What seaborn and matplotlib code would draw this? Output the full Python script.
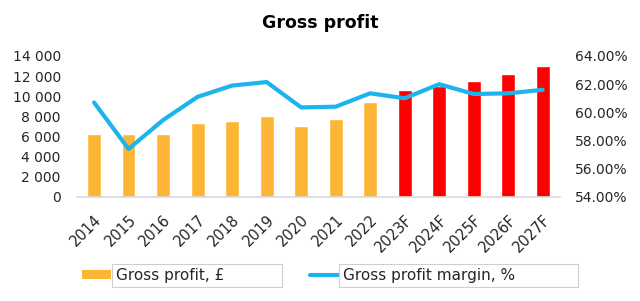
import matplotlib
matplotlib.use("Agg")
import matplotlib.pyplot as plt
import seaborn as sns
import numpy as np
import pandas as pd
from matplotlib.patches import Patch
from matplotlib.lines import Line2D
from matplotlib.ticker import FuncFormatter, MultipleLocator

years = ["2014", "2015", "2016", "2017", "2018", "2019", "2020", "2021", "2022",
         "2023F", "2024F", "2025F", "2026F", "2027F"]
gross_profit = [6200, 6200, 6200, 7350, 7550, 8000, 7000, 7750, 9450,
                10650, 11000, 11550, 12250, 13000]
margin_pct = [60.7, 57.4, 59.45, 61.1, 61.9, 62.15, 60.35, 60.4, 61.35,
              61.0, 62.0, 61.3, 61.35, 61.6]

bar_label = "Gross profit, £"
line_label = "Gross profit margin, %"
title = "Gross profit"

ORANGE = "#FDB536"
RED = "#FF0000"
BLUE = "#1CB4EC"
TXT = "#262626"

sns.set_theme(style="white")
plt.rcParams['font.family'] = ['DejaVu Sans']

df = pd.DataFrame({"year": years, "profit": gross_profit, "margin": margin_pct})
colors = [RED if y.endswith("F") else ORANGE for y in years]

fig = plt.figure(figsize=(6.4, 3.01), dpi=100)
ax = fig.add_axes([0.12, 0.346, 0.755, 0.468])
sns.barplot(data=df, x="year", y="profit", hue="year", palette=colors,
            legend=False, width=0.4, ax=ax, saturation=1)
ax.set_xlim(-0.5, len(years) - 0.5)
ax.set_ylim(0, 14000)
ax.yaxis.set_major_locator(MultipleLocator(2000))
ax.yaxis.set_major_formatter(FuncFormatter(lambda v, p: f"{int(v):,}".replace(",", " ")))
ax.set_xlabel("")
ax.set_ylabel("")
for s in ["top", "left", "right"]:
    ax.spines[s].set_visible(False)
ax.spines["bottom"].set_color("#d9d9d9")
ax.spines["bottom"].set_linewidth(1.2)
ax.tick_params(axis="y", labelsize=10, length=0, pad=11.5, labelcolor=TXT)
ax.tick_params(axis="x", labelsize=10.5, length=0, pad=11, labelcolor=TXT)
for lab in ax.get_xticklabels():
    lab.set_rotation(45)
    lab.set_ha("right")
    lab.set_rotation_mode("anchor")

ax2 = ax.twinx()
sns.lineplot(x=np.arange(len(years)), y=df["margin"], ax=ax2, color=BLUE,
             linewidth=3)
ax2.set_ylim(54, 64)
ax2.yaxis.set_major_locator(MultipleLocator(2))
ax2.yaxis.set_major_formatter(FuncFormatter(lambda v, p: f"{v:.2f}%"))
ax2.set_ylabel("")
for s in ["top", "left", "right", "bottom"]:
    ax2.spines[s].set_visible(False)
ax2.tick_params(axis="y", labelsize=10, length=0, pad=11, labelcolor=TXT)
ax.set_xlim(-0.5, len(years) - 0.5)

fig.text(0.5, 0.924, title, ha="center", va="center", fontsize=12.5,
         fontweight="bold", color="black")

handles = [Patch(facecolor=ORANGE, edgecolor="none"),
           Line2D([0], [0], color=BLUE, linewidth=3)]
leg = fig.legend(handles, [bar_label + " " * 11, line_label + " " * 12],
                 loc="center", bbox_to_anchor=(0.5125, 0.085), ncol=2, frameon=False,
                 fontsize=11, handlelength=1.9, handleheight=0.5,
                 handletextpad=0.3, columnspacing=2.1)
for t in leg.get_texts():
    t.set_bbox(dict(facecolor="white", edgecolor="#cfcfcf", linewidth=0.8, pad=3))
    t.set_color(TXT)

fig.savefig("out.png", dpi=100)
